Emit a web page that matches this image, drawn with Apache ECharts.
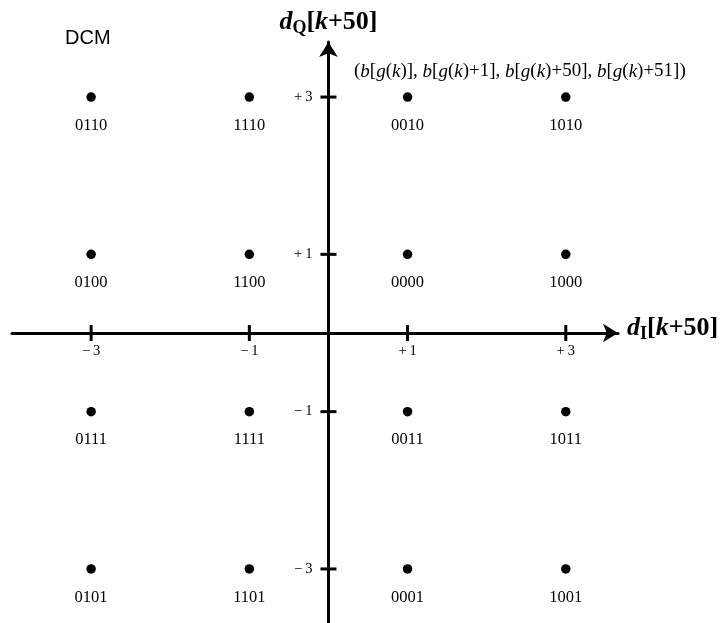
<!DOCTYPE html>
<html><head><meta charset="utf-8">
<script src="https://cdn.jsdelivr.net/npm/echarts@6/dist/echarts.min.js"></script>
<style>html,body{margin:0;padding:0;background:#fff}#c{width:721px;height:623px}</style>
</head><body><div id="c"></div>
<script>
const iLevels = [-3, -1, 1, 3];
const qLevels = [3, 1, -1, -3];
const bitLabels = [
  ['0110', '1110', '0010', '1010'],
  ['0100', '1100', '0000', '1000'],
  ['0111', '1111', '0011', '1011'],
  ['0101', '1101', '0001', '1001']
];
const xTickValues = [-3, -1, 1, 3];
const xTickLabels = ['\u2212\u20093', '\u2212\u20091', '+\u20091', '+\u20093'];
const yTickValues = [3, 1, -1, -3];
const yTickLabels = ['+\u20093', '+\u20091', '\u2212\u20091', '\u2212\u20093'];

const points = [];
qLevels.forEach((q, r) => iLevels.forEach((i, c) => points.push({value: [i, q], name: bitLabels[r][c]})));
const xTicks = xTickValues.map((v, k) => ({value: [v, 0], name: xTickLabels[k]}));
const yTicks = yTickValues.map((v, k) => ({value: [0, v], name: yTickLabels[k]}));

const serif = '"Liberation Serif", "Times New Roman", serif';
const nameRich = {
  bi: {fontFamily: serif, fontSize: 26, fontWeight: 'bold', fontStyle: 'italic', color: '#000'},
  b: {fontFamily: serif, fontSize: 26, fontWeight: 'bold', color: '#000'},
  sub: {fontFamily: serif, fontSize: 18, fontWeight: 'bold', color: '#000', padding: [12, 0, 0, 0]}
};
const chart = echarts.init(document.getElementById('c'));
chart.setOption({
  animation: false,
  backgroundColor: '#fff',
  title: [
    {text: 'DCM', left: 65, top: 28, padding: 0, textStyle: {fontFamily: '"Liberation Sans", Arial', fontSize: 20, fontWeight: 'normal', color: '#000'}},
    {text: '({i|b}[{i|g}({i|k})], {i|b}[{i|g}({i|k})+1], {i|b}[{i|g}({i|k})+50], {i|b}[{i|g}({i|k})+51])', left: 354, top: 62, padding: 0,
     textStyle: {fontFamily: serif, fontSize: 19, fontWeight: 'normal', color: '#000',
       rich: {i: {fontFamily: serif, fontSize: 19, fontStyle: 'italic', color: '#000'}}}}
  ],
  grid: {left: 12, right: 103, top: 42, height: 582, containLabel: false, outerBoundsMode: 'none'},
  xAxis: {
    type: 'value', min: -4, max: 3.66,
    splitLine: {show: false},
    axisLine: {onZero: true, lineStyle: {color: '#000', width: 3}, symbol: ['none', 'arrow'], symbolSize: [14, 15]},
    axisTick: {show: false},
    axisLabel: {show: false},
    name: '{bi|d}{sub|I}{b|[}{bi|k}{b|+50]}', nameLocation: 'end', nameGap: 9,
    nameTextStyle: {rich: nameRich, padding: [0, 0, 10, 0]}
  },
  yAxis: {
    type: 'value', min: -3.7, max: 3.7,
    splitLine: {show: false},
    axisLine: {onZero: true, lineStyle: {color: '#000', width: 3}, symbol: ['none', 'arrow'], symbolSize: [14, 15]},
    axisTick: {show: false},
    axisLabel: {show: false},
    name: '{bi|d}{sub|Q}{b|[}{bi|k}{b|+50]}', nameLocation: 'end', nameGap: 5,
    nameTextStyle: {rich: nameRich}
  },
  series: [
    {type: 'scatter', data: xTicks, symbol: 'rect', symbolSize: [3, 16], itemStyle: {color: '#000', opacity: 1}, silent: true, z: 3,
     label: {show: true, position: 'bottom', distance: 3, formatter: p => p.name, fontFamily: serif, fontSize: 14.5, color: '#000'}},
    {type: 'scatter', data: yTicks, symbol: 'rect', symbolSize: [16, 3], itemStyle: {color: '#000', opacity: 1}, silent: true, z: 3,
     label: {show: true, position: 'left', distance: 8, formatter: p => p.name, fontFamily: serif, fontSize: 14.5, color: '#000'}},
    {type: 'scatter', data: points, symbol: 'circle', symbolSize: 9.5, itemStyle: {color: '#000', opacity: 1},
     label: {show: true, position: 'bottom', distance: 15, formatter: p => p.name, fontFamily: serif, fontSize: 16.5, color: '#000'}}
  ]
});
</script></body></html>
